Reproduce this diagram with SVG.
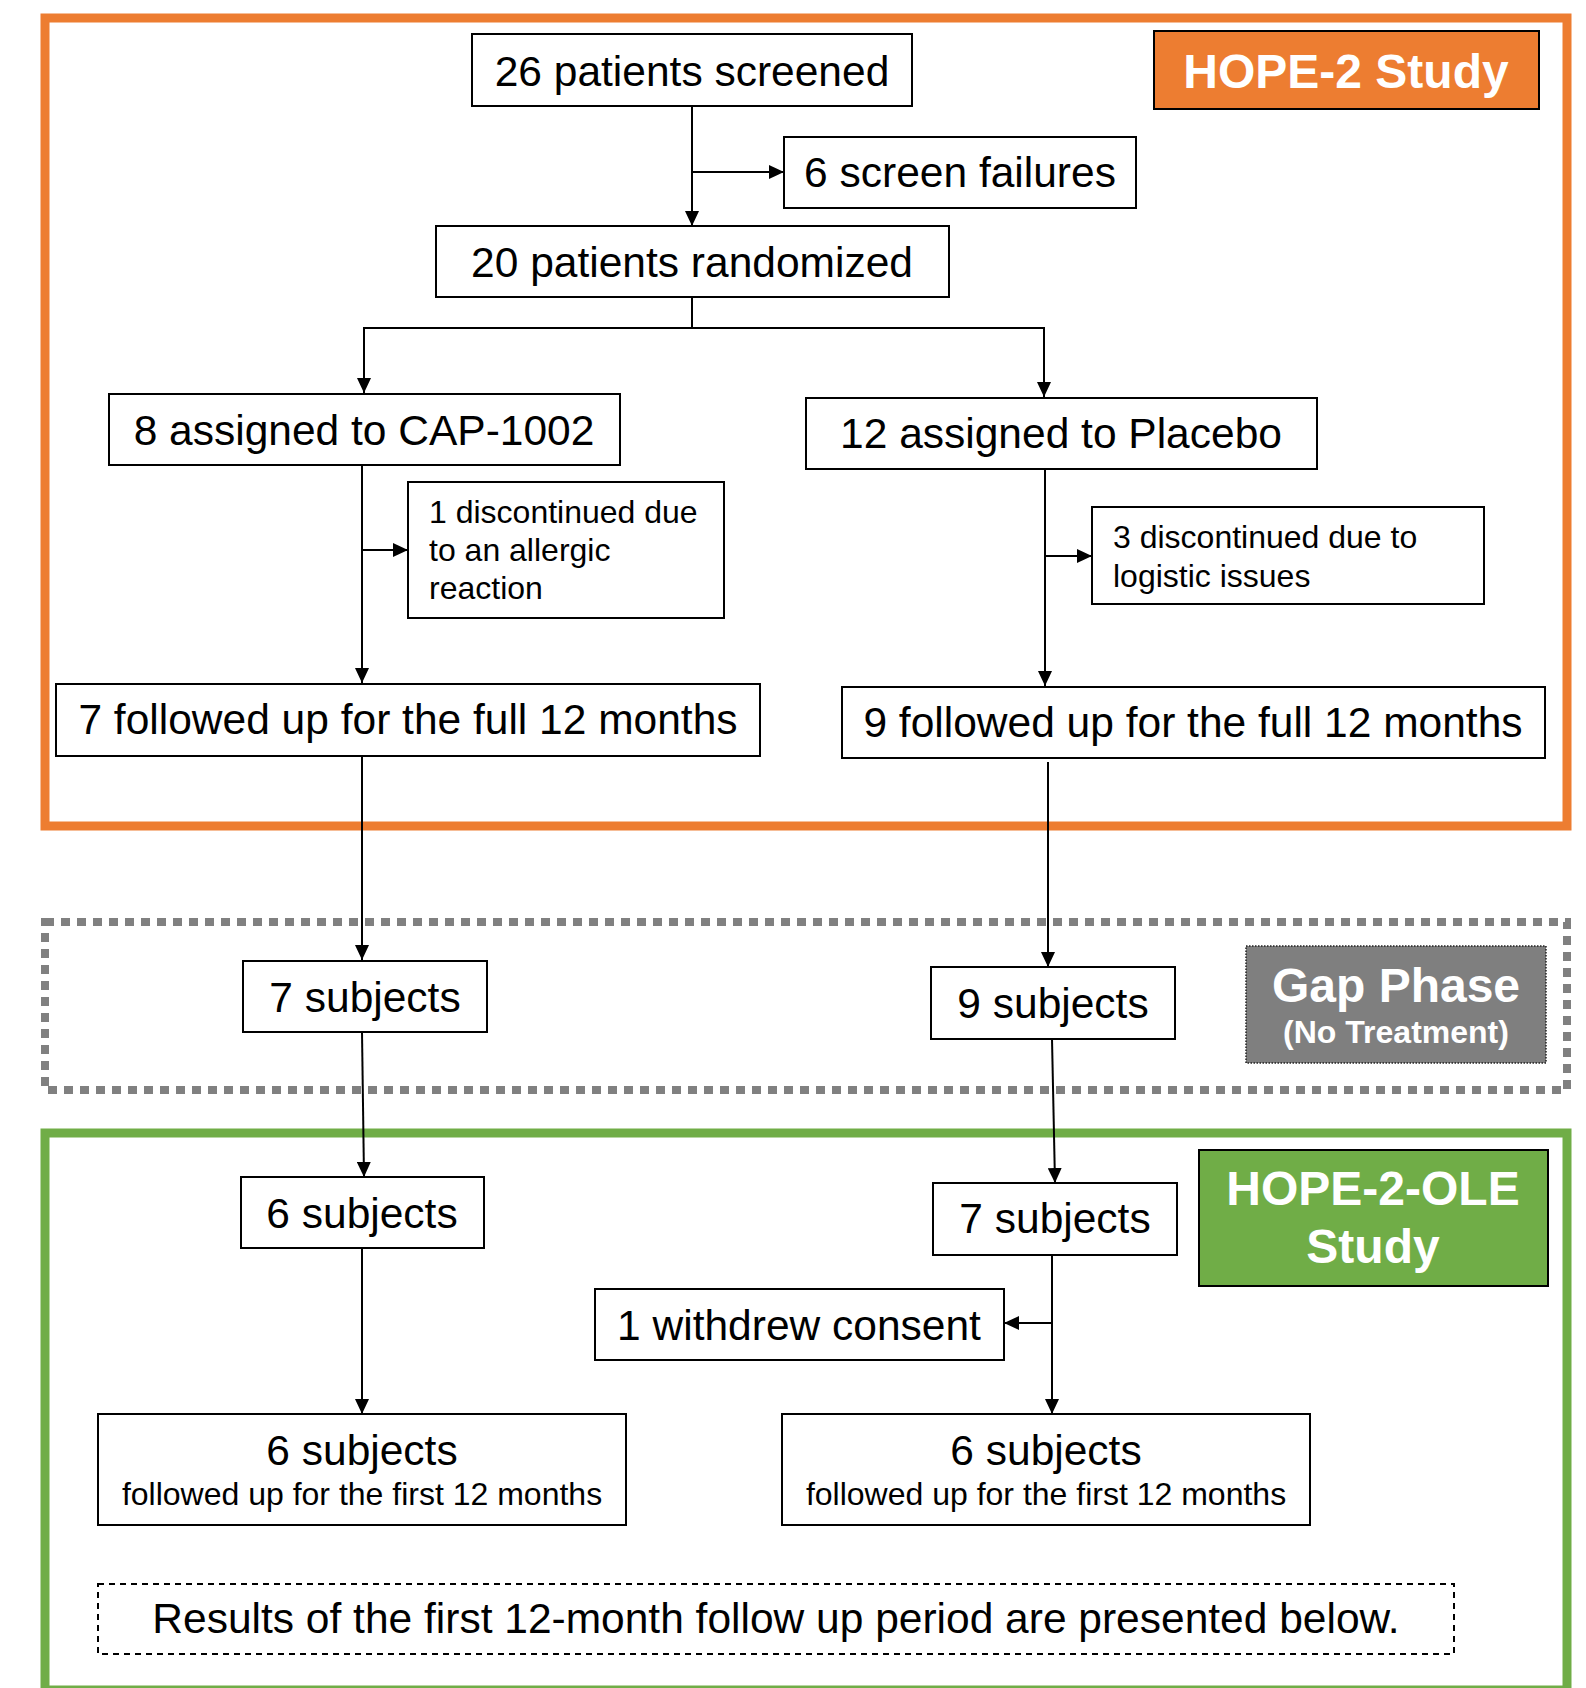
<svg xmlns="http://www.w3.org/2000/svg" width="1586" height="1688" viewBox="0 0 1586 1688">
<style>
.box{fill:#fff;stroke:#000;stroke-width:2}
.t{font-family:"Liberation Sans",Arial,sans-serif;font-size:42.5px;fill:#000}
.s{font-family:"Liberation Sans",Arial,sans-serif;font-size:32px;fill:#000}
.b{font-family:"Liberation Sans",Arial,sans-serif;font-weight:bold;fill:#fff}
.c{fill:none;stroke:#000;stroke-width:2;marker-end:url(#ah)}
</style>
<defs>
<marker id="ah" markerUnits="userSpaceOnUse" markerWidth="16" markerHeight="14" refX="15" refY="7" orient="auto">
<path d="M0,0 L15,7 L0,14 z" fill="#000"/>
</marker>
</defs>
<rect width="1586" height="1688" fill="#fff"/>
<g id="hope2-frame"><rect x="45" y="18" width="1522" height="808" fill="none" stroke="#ED7D31" stroke-width="9"/></g>
<g id="gap-frame"><rect x="45" y="922" width="1522" height="168" fill="none" stroke="#808080" stroke-width="8" stroke-dasharray="9 7"/></g>
<g id="ole-frame"><rect x="45" y="1133" width="1522" height="557" fill="none" stroke="#70AD47" stroke-width="9"/></g>

<g id="hope2-label"><rect x="1154" y="31" width="385" height="78" fill="#ED7D31" stroke="#000" stroke-width="2"/><text class="b" x="1346" y="88" font-size="48" text-anchor="middle">HOPE-2 Study</text></g>
<g id="gap-label"><rect x="1246" y="946" width="300" height="117" fill="#7F7F7F" stroke="#222" stroke-width="1.5" stroke-dasharray="1.5 1.5"/><text class="b" x="1396" y="1002" font-size="48" text-anchor="middle">Gap Phase</text><text class="b" x="1396" y="1043" font-size="32" text-anchor="middle">(No Treatment)</text></g>
<g id="ole-label"><rect x="1199" y="1150" width="349" height="136" fill="#70AD47" stroke="#000" stroke-width="2"/><text class="b" x="1373" y="1205" font-size="48" text-anchor="middle">HOPE-2-OLE</text><text class="b" x="1373" y="1263" font-size="48" text-anchor="middle">Study</text></g>

<g id="connectors">
<line class="c" x1="692" y1="106" x2="692" y2="226"/>
<line class="c" x1="692" y1="172" x2="784" y2="172"/>
<path class="c" d="M692,297 V328 H364 V393"/>
<path class="c" d="M692,328 H1044 V397"/>
<line class="c" x1="362" y1="465" x2="362" y2="683"/>
<line class="c" x1="362" y1="550" x2="408" y2="550"/>
<line class="c" x1="1045" y1="469" x2="1045" y2="686"/>
<line class="c" x1="1045" y1="556" x2="1092" y2="556"/>
<line class="c" x1="362" y1="756" x2="362" y2="960"/>
<line class="c" x1="1048" y1="762" x2="1048" y2="967"/>
<line class="c" x1="362" y1="1032" x2="364" y2="1177"/>
<line class="c" x1="1052" y1="1039" x2="1055" y2="1183"/>
<line class="c" x1="362" y1="1248" x2="362" y2="1414"/>
<line class="c" x1="1052" y1="1255" x2="1052" y2="1414"/>
<line class="c" x1="1052" y1="1323" x2="1004" y2="1323"/>
</g>

<g id="n-screened"><rect class="box" x="472" y="34" width="440" height="72"/><text class="t" x="692" y="86" text-anchor="middle">26 patients screened</text></g>
<g id="n-failures"><rect class="box" x="784" y="137" width="352" height="71"/><text class="t" x="960" y="187" text-anchor="middle">6 screen failures</text></g>
<g id="n-randomized"><rect class="box" x="436" y="226" width="513" height="71"/><text class="t" x="692" y="277" text-anchor="middle">20 patients randomized</text></g>
<g id="n-cap"><rect class="box" x="109" y="394" width="511" height="71"/><text class="t" x="364" y="445" text-anchor="middle">8 assigned to CAP-1002</text></g>
<g id="n-placebo"><rect class="box" x="806" y="398" width="511" height="71"/><text class="t" x="1061" y="448" text-anchor="middle">12 assigned to Placebo</text></g>
<g id="n-disc1"><rect class="box" x="408" y="482" width="316" height="136"/><text class="s" x="429" y="523">1 discontinued due</text><text class="s" x="429" y="561">to an allergic</text><text class="s" x="429" y="599">reaction</text></g>
<g id="n-disc3"><rect class="box" x="1092" y="507" width="392" height="97"/><text class="s" x="1113" y="548">3 discontinued due to</text><text class="s" x="1113" y="587">logistic issues</text></g>
<g id="n-full7"><rect class="box" x="56" y="684" width="704" height="72"/><text class="t" x="408" y="734" text-anchor="middle">7 followed up for the full 12 months</text></g>
<g id="n-full9"><rect class="box" x="842" y="687" width="703" height="71"/><text class="t" x="1193" y="737" text-anchor="middle">9 followed up for the full 12 months</text></g>
<g id="n-gap7"><rect class="box" x="243" y="961" width="244" height="71"/><text class="t" x="365" y="1012" text-anchor="middle">7 subjects</text></g>
<g id="n-gap9"><rect class="box" x="931" y="967" width="244" height="72"/><text class="t" x="1053" y="1018" text-anchor="middle">9 subjects</text></g>
<g id="n-ole6"><rect class="box" x="241" y="1177" width="243" height="71"/><text class="t" x="362" y="1228" text-anchor="middle">6 subjects</text></g>
<g id="n-ole7"><rect class="box" x="933" y="1183" width="244" height="72"/><text class="t" x="1055" y="1233" text-anchor="middle">7 subjects</text></g>
<g id="n-withdrew"><rect class="box" x="595" y="1289" width="409" height="71"/><text class="t" x="799" y="1340" text-anchor="middle">1 withdrew consent</text></g>
<g id="n-final-left"><rect class="box" x="98" y="1414" width="528" height="111"/><text class="t" x="362" y="1465" text-anchor="middle">6 subjects</text><text class="s" x="362" y="1505" text-anchor="middle">followed up for the first 12 months</text></g>
<g id="n-final-right"><rect class="box" x="782" y="1414" width="528" height="111"/><text class="t" x="1046" y="1465" text-anchor="middle">6 subjects</text><text class="s" x="1046" y="1505" text-anchor="middle">followed up for the first 12 months</text></g>
<g id="n-results"><rect x="98" y="1584" width="1356" height="70" fill="none" stroke="#000" stroke-width="2" stroke-dasharray="6 5"/><text class="t" x="776" y="1633" text-anchor="middle">Results of the first 12-month follow up period are presented below.</text></g>
</svg>
